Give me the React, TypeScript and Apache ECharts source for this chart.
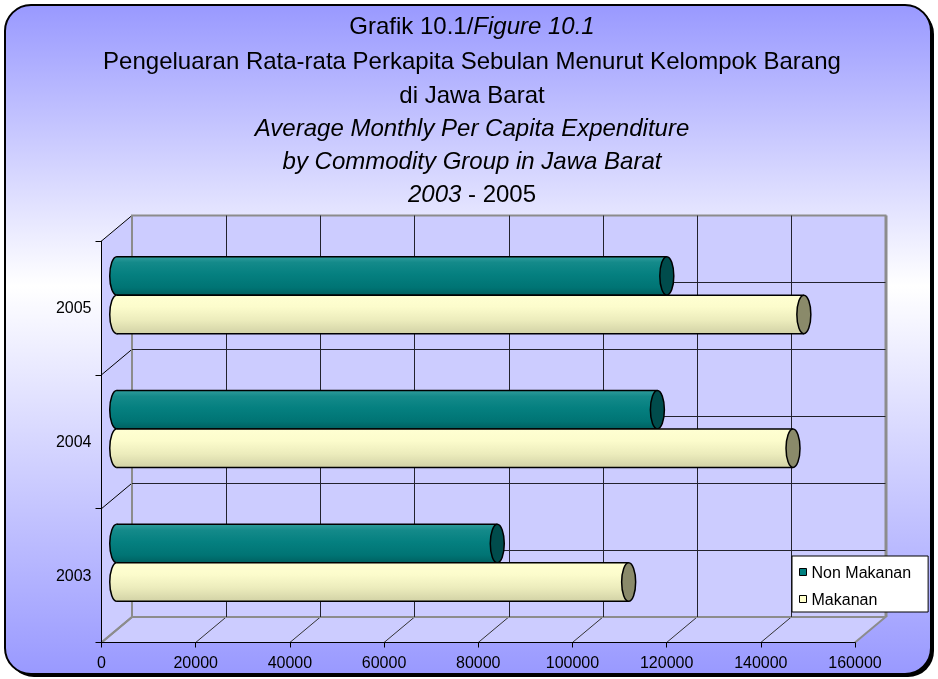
import React, { useEffect, useRef } from 'react';
import * as echarts from 'echarts';

// ---- data ----
const years = ['2003', '2004', '2005'];
const nonMakanan = [80800, 114800, 116800];
const makanan = [108700, 143600, 145900];
const seriesNames = ['Non Makanan', 'Makanan'];
const xMin = 0;
const xMax = 160000;
const xInterval = 20000;
const backRows = 6;

const titleLines: { t: string; i: boolean }[][] = [
  [{ t: 'Grafik 10.1/', i: false }, { t: 'Figure 10.1', i: true }],
  [{ t: 'Pengeluaran Rata-rata Perkapita Sebulan Menurut Kelompok Barang', i: false }],
  [{ t: 'di Jawa Barat', i: false }],
  [{ t: 'Average Monthly Per Capita Expenditure', i: true }],
  [{ t: 'by Commodity Group in Jawa Barat', i: true }],
  [{ t: '2003', i: true }, { t: ' - 2005', i: false }],
];
const titleY = [25, 60, 94, 127.5, 160.5, 193.5];

// ---- layout ----
const FONT = "'Liberation Sans', Arial, sans-serif";
const FRONT = { left: 101.5, top: 241, width: 753.5, height: 401.5 };
const DX = 30.5;
const DY = -25.5;

const teal = {
  body: [
    { offset: 0, color: '#2f9c9c' },
    { offset: 0.15, color: '#148a8a' },
    { offset: 0.45, color: '#058080' },
    { offset: 0.8, color: '#007474' },
    { offset: 1, color: '#006060' },
  ],
  cap: '#004c4c',
};
const cream = {
  body: [
    { offset: 0, color: '#ffffd2' },
    { offset: 0.3, color: '#fcfccc' },
    { offset: 0.65, color: '#ececbc' },
    { offset: 1, color: '#d2d2a6' },
  ],
  cap: '#8a8a6a',
};

function makeCylinder(which: number) {
  const pal = which === 0 ? teal : cream;
  return (params: any, api: any) => {
    const cat = api.value(0);
    const val = api.value(1);
    const p0 = api.coord([0, cat]);
    const p1 = api.coord([val, cat]);
    const band = api.size([0, 1])[1];
    const h = band * 0.2875;
    const top = which === 0 ? p0[1] - h : p0[1];
    const cy = top + h / 2;
    const rx = 7;
    const grad = new echarts.graphic.LinearGradient(0, 0, 0, 1, pal.body);
    return {
      type: 'group',
      children: [
        { type: 'ellipse', shape: { cx: p0[0], cy, rx, ry: h / 2 }, style: { fill: grad, stroke: '#000', lineWidth: 1.5 } },
        { type: 'rect', shape: { x: p0[0], y: top, width: p1[0] - p0[0], height: h }, style: { fill: grad } },
        { type: 'line', shape: { x1: p0[0], y1: top, x2: p1[0], y2: top }, style: { stroke: '#000', lineWidth: 1.5 } },
        { type: 'line', shape: { x1: p0[0], y1: top + h, x2: p1[0], y2: top + h }, style: { stroke: '#000', lineWidth: 1.5 } },
        { type: 'ellipse', shape: { cx: p1[0], cy, rx, ry: h / 2 }, style: { fill: pal.cap, stroke: '#000', lineWidth: 1.5 } },
      ],
    };
  };
}

function buildGraphic() {
  const els: any[] = [];
  // frame
  els.push({ type: 'rect', z: -20, shape: { x: 8, y: 8, width: 926, height: 669, r: 26 }, style: { fill: '#000' } });
  els.push({
    type: 'rect', z: -19,
    shape: { x: 5, y: 5, width: 926, height: 669, r: 26 },
    style: {
      fill: new echarts.graphic.LinearGradient(0, 0, 0, 1, [
        { offset: 0, color: '#9999ff' },
        { offset: 0.42, color: '#ffffff' },
        { offset: 1, color: '#9999ff' },
      ]),
      stroke: '#000', lineWidth: 2,
    },
  });
  const fl = FRONT.left, ft = FRONT.top, fr = FRONT.left + FRONT.width, fb = FRONT.top + FRONT.height;
  // left wall
  els.push({ type: 'polygon', z: -10, shape: { points: [[fl, ft], [fl, fb], [fl + DX, fb + DY], [fl + DX, ft + DY]] }, style: { fill: '#ccccff' } });
  // floor
  els.push({ type: 'polygon', z: -10, shape: { points: [[fl, fb], [fr, fb], [fr + DX, fb + DY], [fl + DX, fb + DY]] }, style: { fill: '#ccccff' } });
  // left wall diagonals
  for (let j = 0; j <= years.length; j++) {
    const y = ft + (j * FRONT.height) / years.length;
    els.push({ type: 'line', z: -5, shape: { x1: fl, y1: y, x2: fl + DX, y2: y + DY }, style: { stroke: j === years.length ? '#8c8c8c' : '#000', lineWidth: j === years.length ? 2 : 1 } });
  }
  // floor diagonals
  const nTicks = (xMax - xMin) / xInterval;
  for (let k = 0; k <= nTicks; k++) {
    const x = fl + (k * FRONT.width) / nTicks;
    const edge = k === 0 || k === nTicks;
    els.push({ type: 'line', z: -5, shape: { x1: x, y1: fb, x2: x + DX, y2: fb + DY }, style: { stroke: edge ? '#8c8c8c' : '#333', lineWidth: edge ? 2 : 1 } });
  }
  // right edge of back wall
  els.push({ type: 'line', z: -4, shape: { x1: fr + DX + 0.5, y1: ft + DY, x2: fr + DX + 0.5, y2: fb + DY }, style: { stroke: '#8c8c8c', lineWidth: 3 } });
  // titles
  titleLines.forEach((line, i) => {
    els.push({
      type: 'text', z: 10,
      x: 472, y: titleY[i],
      style: {
        text: line.map((s) => `{${s.i ? 'i' : 'n'}|${s.t}}`).join(''),
        rich: {
          n: { fontSize: 24, fontFamily: FONT, fill: '#000' },
          i: { fontSize: 24, fontFamily: FONT, fontStyle: 'italic', fill: '#000' },
        },
        font: `24px ${FONT}`,
        fill: '#000',
        align: 'center',
        verticalAlign: 'middle',
        textAlign: 'center',
        textVerticalAlign: 'middle',
      },
    });
  });
  return els;
}

export default function App() {
  const ref = useRef<HTMLDivElement>(null);
  useEffect(() => {
    if (!ref.current) return;
    const chart = echarts.init(ref.current, undefined, { renderer: 'svg' });
    const hiddenAxis = { axisLine: { show: false }, axisTick: { show: false }, axisLabel: { show: false } };
    const option: any = {
      animation: false,
      grid: [
        { left: FRONT.left, top: FRONT.top, width: FRONT.width, height: FRONT.height, outerBoundsMode: 'none' },
        {
          left: FRONT.left + DX, top: FRONT.top + DY, width: FRONT.width, height: FRONT.height,
          show: true, backgroundColor: '#ccccff', borderColor: '#8c8c8c', borderWidth: 2, outerBoundsMode: 'none',
        },
        { left: FRONT.left + DX / 2, top: FRONT.top + DY / 2, width: FRONT.width, height: FRONT.height, outerBoundsMode: 'none' },
      ],
      xAxis: [
        {
          gridIndex: 0, type: 'value', min: xMin, max: xMax, interval: xInterval,
          axisLine: { show: true, lineStyle: { color: '#000', width: 1 } },
          axisTick: { show: true, length: 5, lineStyle: { color: '#000' } },
          axisLabel: { fontSize: 16, color: '#000', margin: 12, fontFamily: FONT, formatter: (v: number) => String(v) },
          splitLine: { show: false },
        },
        {
          gridIndex: 1, type: 'value', min: xMin, max: xMax, interval: xInterval, ...hiddenAxis,
          splitLine: { show: true, showMinLine: false, showMaxLine: false, lineStyle: { color: '#22222e', width: 1 } },
        },
        { gridIndex: 2, type: 'value', min: xMin, max: xMax, show: false },
      ],
      yAxis: [
        {
          gridIndex: 0, type: 'category', data: years, boundaryGap: true,
          axisLine: { show: true, lineStyle: { color: '#000', width: 1 } },
          axisTick: { show: true, length: 6, lineStyle: { color: '#000' } },
          axisLabel: { fontSize: 16, color: '#000', margin: 10, fontFamily: FONT },
          splitLine: { show: false },
        },
        {
          gridIndex: 1, type: 'value', min: 0, max: backRows, interval: 1, ...hiddenAxis,
          splitLine: { show: true, showMinLine: false, showMaxLine: false, lineStyle: { color: '#22222e', width: 1 } },
        },
        { gridIndex: 2, type: 'category', data: years, show: false },
      ],
      legend: {
        orient: 'vertical', left: 792, top: 556, z: 20,
        itemWidth: 7, itemHeight: 7, itemGap: 11, icon: 'rect',
        padding: [8, 17, 5, 7],
        backgroundColor: '#ffffff', borderColor: '#000', borderWidth: 1, borderRadius: 0,
        selectedMode: false,
        textStyle: { fontSize: 16, color: '#000', fontFamily: FONT, lineHeight: 16 },
        data: [
          { name: seriesNames[0], itemStyle: { color: '#008080', borderColor: '#000', borderWidth: 1 } },
          { name: seriesNames[1], itemStyle: { color: '#ffffcc', borderColor: '#000', borderWidth: 1 } },
        ],
      },
      graphic: { elements: buildGraphic() },
      series: [
        {
          name: seriesNames[0], type: 'custom', xAxisIndex: 2, yAxisIndex: 2,
          itemStyle: { color: '#008080' },
          encode: { x: 1, y: 0 },
          data: years.map((_, i) => [i, nonMakanan[i]]),
          renderItem: makeCylinder(0),
        },
        {
          name: seriesNames[1], type: 'custom', xAxisIndex: 2, yAxisIndex: 2,
          itemStyle: { color: '#ffffcc' },
          encode: { x: 1, y: 0 },
          data: years.map((_, i) => [i, makanan[i]]),
          renderItem: makeCylinder(1),
        },
      ],
    };
    chart.setOption(option);
    return () => chart.dispose();
  }, []);
  return <div ref={ref} style={{ position: 'fixed', left: 0, top: 0, width: 938, height: 679 }} />;
}
